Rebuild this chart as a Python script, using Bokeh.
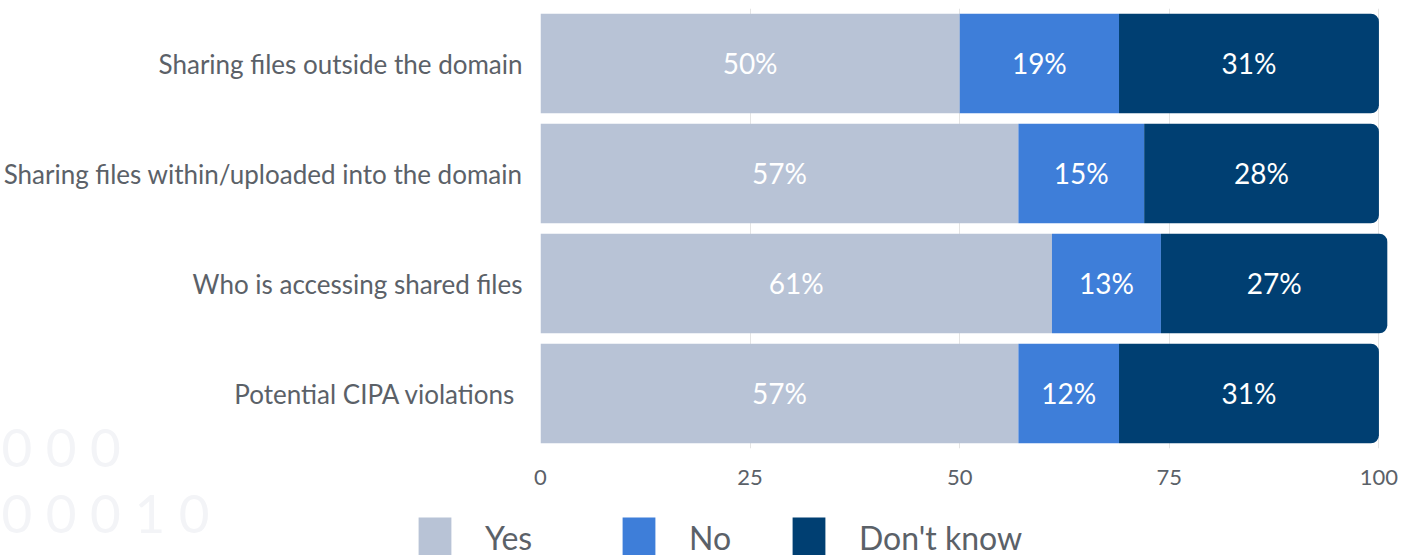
from bokeh.plotting import figure
from bokeh.models import (ColumnDataSource, Range1d, FactorRange, FixedTicker, Legend,
                          LegendItem, LabelSet, Label)
from bokeh.core.properties import value
from bokeh.embed import file_html
from bokeh.resources import INLINE

categories = ["Sharing files outside the domain",
              "Sharing files within/uploaded into the domain",
              "Who is accessing shared files",
              "Potential CIPA violations "]
yes = [50, 57, 61, 57]
no = [19, 15, 13, 12]
dont_know = [31, 28, 27, 31]
series_names = ["Yes", "No", "Don't know"]
colors = ["#b8c3d6", "#3e7ed9", "#003f72"]
x_ticks = [0, 25, 50, 75, 100]
watermark = ["0 0 0", "0 0 0 1 0"]

FONT = "Lato"
GREY = "#5b6168"
WM = "#f3f4f7"

p = figure(width=1410, height=500, output_backend="svg", toolbar_location=None,
           y_range=FactorRange(factors=categories[::-1], range_padding=0),
           x_range=Range1d(0, 101.5),
           min_border_left=540, min_border_right=19, min_border_top=8,
           min_border_bottom=52, outline_line_color=None)

series = [yes, no, dont_know]
sources = []
left = [0] * len(categories)
for vals in series:
    right = [l + v for l, v in zip(left, vals)]
    sources.append(ColumnDataSource(dict(y=categories, left=left, right=right,
                                         mid=[(l + r) / 2 for l, r in zip(left, right)],
                                         txt=[f"{v}%" for v in vals])))
    left = right

for i, (src, col) in enumerate(zip(sources, colors)):
    kw = {}
    if i == len(series) - 1:
        kw["border_radius"] = (0, 8, 8, 0)
    p.hbar(y="y", left="left", right="right", height=0.905, source=src,
           fill_color=col, line_color=None, **kw)
    p.add_layout(LabelSet(x="mid", y="y", text="txt", source=src,
                          text_align="center", text_baseline="middle",
                          text_color="white", text_font=value(FONT),
                          text_font_size="28px", y_offset=1))

p.xaxis.ticker = FixedTicker(ticks=x_ticks)
p.xaxis.axis_line_color = None
p.xaxis.major_tick_line_color = None
p.xaxis.minor_tick_line_color = None
p.xaxis.major_label_text_font = FONT
p.xaxis.major_label_text_font_size = "22px"
p.xaxis.major_label_text_color = GREY
p.xaxis.major_label_standoff = 15

p.yaxis.axis_line_color = None
p.yaxis.major_tick_line_color = None
p.yaxis.minor_tick_line_color = None
p.yaxis.major_label_text_font = FONT
p.yaxis.major_label_text_font_size = "26px"
p.yaxis.major_label_text_color = GREY
p.yaxis.major_label_standoff = 12

p.xgrid.grid_line_color = "#e4e4e4"
p.ygrid.grid_line_color = None

# transparent overlay strip holding the legend and the faint background digits
q = figure(width=1410, height=135, output_backend="svg", toolbar_location=None,
           x_range=Range1d(1000, 1100), y_range=FactorRange(factors=categories),
           x_axis_location=None, y_axis_location=None,
           min_border=0, outline_line_color=None,
           background_fill_alpha=0, border_fill_alpha=0,
           styles={"position": "absolute", "top": "420px", "left": "0px"})
q.grid.grid_line_color = None

for k, t in enumerate(watermark):
    q.add_layout(Label(x=1, y=78 - 66 * k, x_units="screen", y_units="screen", text=t,
                       text_font=FONT, text_font_size="53px", text_color=WM))

legend_x = [414, 618, 788]
for src, col, name, lx in zip(sources, colors, series_names, legend_x):
    r = q.hbar(y="y", left="left", right="right", height=0, source=src,
               fill_color=col, line_color=None)
    q.add_layout(Legend(items=[LegendItem(label=name, renderers=[r])],
                        location=(lx, -7), orientation="horizontal",
                        glyph_width=41, glyph_height=50, label_standoff=30,
                        label_text_font=FONT, label_text_font_size="32px",
                        label_text_color=GREY, padding=0, margin=0,
                        border_line_color=None, background_fill_alpha=0))

open("out.html", "w").write(file_html([p, q], INLINE))
